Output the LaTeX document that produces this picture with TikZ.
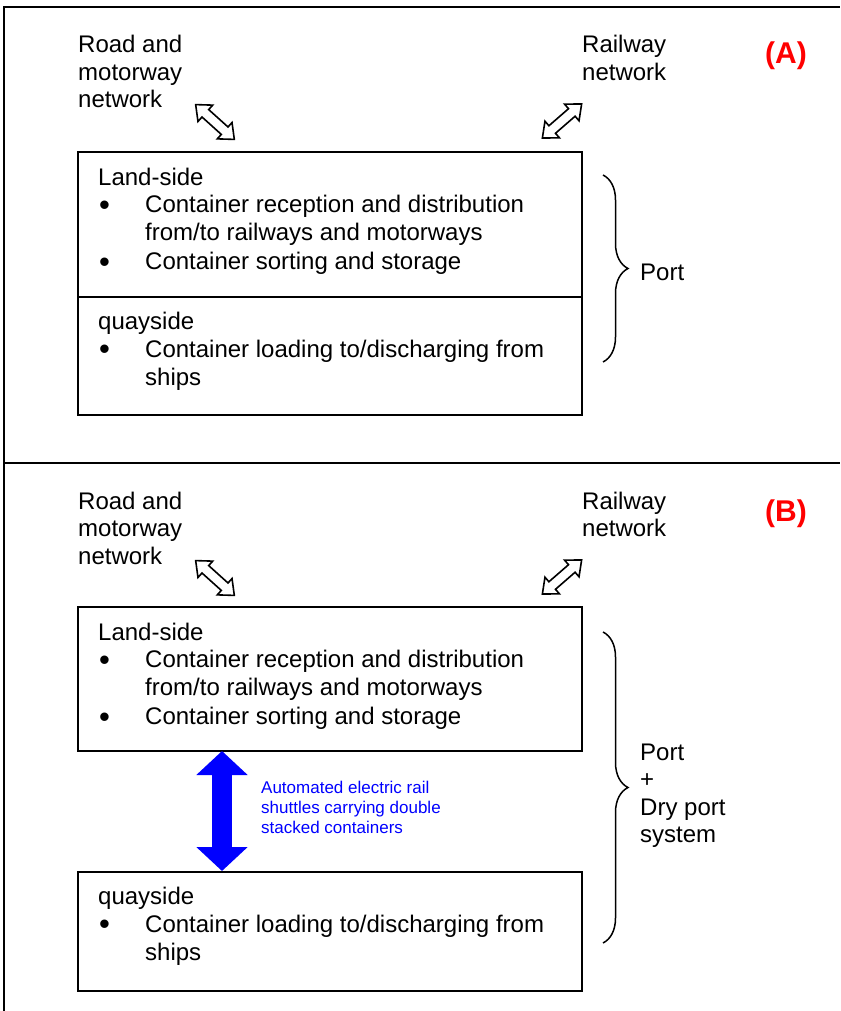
\documentclass[tikz,border=0pt]{standalone}
\usepackage{fontspec}
\setmainfont{Liberation Sans}
\usetikzlibrary{arrows.meta,decorations.pathreplacing}
\newcommand\bl[1]{\makebox[47pt][l]{\hspace{1pt}\raisebox{-2.5pt}{\fontsize{31}{0}\selectfont\textbullet}}#1}
\newcommand\hollowarrow[3]{%
  \begin{scope}[shift={#1},rotate=#2]
    \draw[hollow] (-26,0) -- (-13,11) -- (-13,5) -- (13,5) -- (13,11) -- (26,0)
      -- (13,-11) -- (13,-5) -- (-13,-5) -- (-13,-11) -- cycle;
    \coordinate (#3) at (0,0);
  \end{scope}}
\begin{document}
\begin{tikzpicture}[x=1pt,y=-1pt,
  box/.style={draw, line width=1.8pt, minimum width=504pt, inner sep=0pt, anchor=north west},
  txt/.style={anchor=base west, inner sep=0pt, align=left, font=\fontsize{24}{27.5}\selectfont},
  tag/.style={anchor=base west, inner sep=0pt, text=red, font=\fontsize{30}{32}\selectfont\bfseries},
  frame/.style={line width=1.8pt},
  brc/.style={decorate, decoration={brace, amplitude=25pt}, line width=1.5pt},
  hollow/.style={draw, line width=1.6pt, fill=white, line join=miter},
  shuttle/.style={draw=blue, line width=20pt, {Triangle[width=50pt,length=24pt]}-{Triangle[width=50pt,length=24pt]}},
  note/.style={anchor=base west, inner sep=0pt, align=left, text=blue, font=\fontsize{17}{20}\selectfont}
]
\useasboundingbox (0,0) rectangle (840,1011);

% frame
\draw[frame] (4,1011) -- (4,7) -- (840,7);
\draw[frame] (4,463) -- (840,463);

% ---------- (A) ----------
% anchors are at the baseline of the LAST line of each block
\node[txt] (roadA) at (78,108) {Road and\\motorway\\network};
\node[txt] (railA) at (582,80.5) {Railway\\network};
\node[tag] (tagA) at (765,64) {(A)};
\hollowarrow{(215,122)}{-42}{arrA1}
\hollowarrow{(562,121)}{41}{arrA2}

\node[box, minimum height=145pt] (A1) at (77,151) {};
\node[box, minimum height=118pt] (A2) at (77,296) {};
\node[txt] (A1t) at (98,269.5) {Land-side\\
\bl{Container reception and distribution}\\
\hspace*{47pt}from/to railways and motorways\\[2pt]
\bl{Container sorting and storage}};
\node[txt] (A2t) at (98,385.5) {quayside\\[0.5pt]
\bl{Container loading to/discharging from}\\[1pt]
\hspace*{47pt}ships};

\coordinate (braceA1) at (603,175);
\coordinate (braceA2) at (603,362);
\draw[brc] (braceA1) -- (braceA2);
\node[txt] (portA) at (640,280) {Port};

% ---------- (B) ----------
\node[txt] (roadB) at (78,564) {Road and\\motorway\\network};
\node[txt] (railB) at (582,536.5) {Railway\\network};
\node[tag] (tagB) at (765,521) {(B)};
\hollowarrow{(215,578)}{-42}{arrB1}
\hollowarrow{(562,577)}{41}{arrB2}

\node[box, minimum height=144pt] (B1) at (77,606) {};
\node[box, minimum height=119pt] (B2) at (77,871) {};
\node[txt] (B1t) at (98,724.5) {Land-side\\
\bl{Container reception and distribution}\\
\hspace*{47pt}from/to railways and motorways\\[2pt]
\bl{Container sorting and storage}};
\node[txt] (B2t) at (98,960.5) {quayside\\[0.5pt]
\bl{Container loading to/discharging from}\\[1pt]
\hspace*{47pt}ships};

\coordinate (shT) at (222,751);
\coordinate (shB) at (222,871);
\draw[shuttle] (shT) -- (shB);
\node[note] (shuttleTxt) at (261,833) {Automated electric rail\\shuttles carrying double\\stacked containers};

\coordinate (braceB1) at (603,632);
\coordinate (braceB2) at (603,943);
\draw[brc] (braceB1) -- (braceB2);
\node[txt] (portB) at (640,842.5) {Port\\+\\Dry port\\system};
\end{tikzpicture}
\end{document}
